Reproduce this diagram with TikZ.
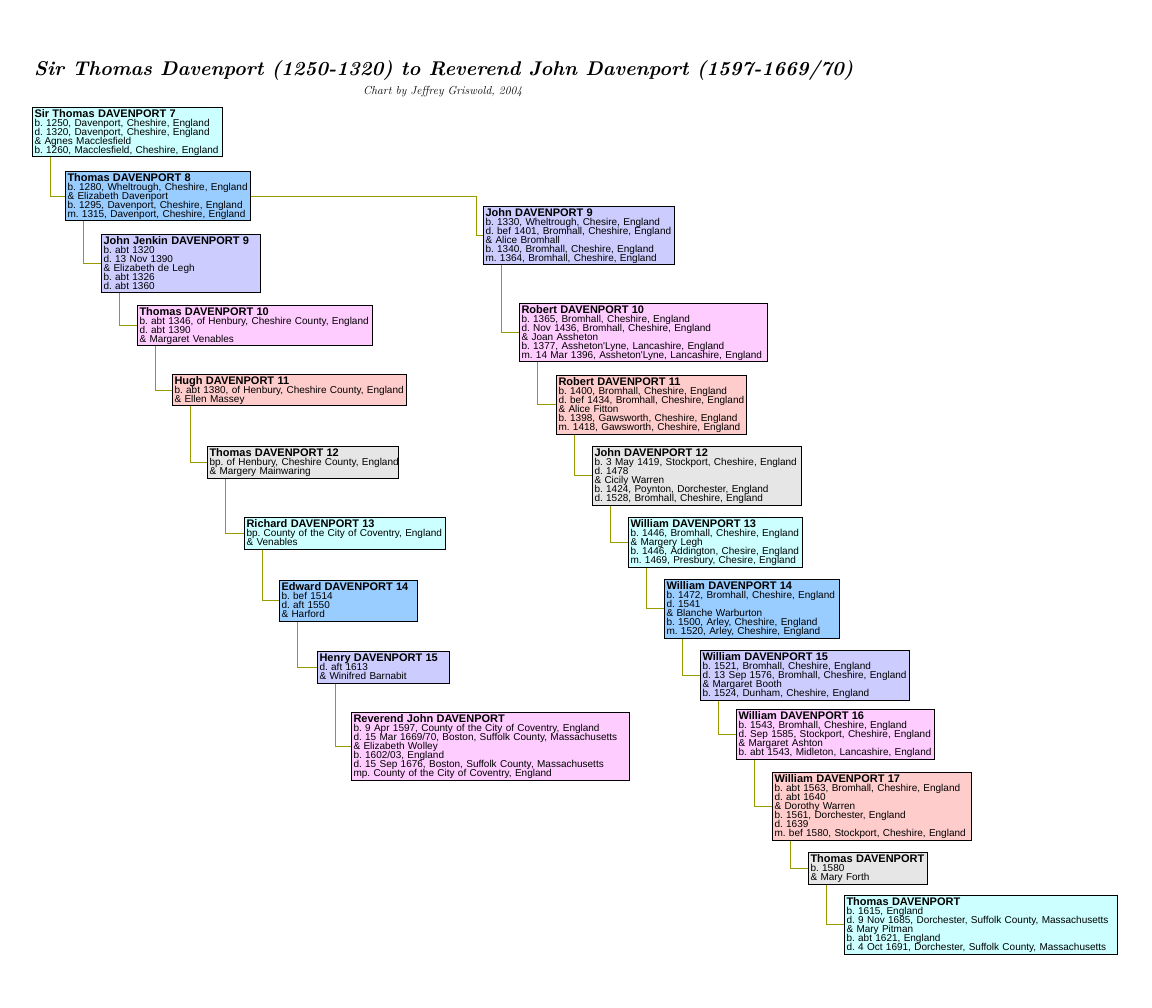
\documentclass[tikz,border=0pt]{standalone}
\usepackage{fontspec}
\usetikzlibrary{backgrounds}
\newfontfamily\boxfont{Liberation Sans}
\frenchspacing
\definecolor{cCyan}{HTML}{CCFFFF}
\definecolor{cBlue}{HTML}{99CCFF}
\definecolor{cLav}{HTML}{CCCCFF}
\definecolor{cPink}{HTML}{FFCCFF}
\definecolor{cSalm}{HTML}{FFCCCC}
\definecolor{cGray}{HTML}{E6E6E6}
\definecolor{cOlive}{HTML}{999900}
\newcommand\boxsetup{\boxfont\fontsize{10}{9}\selectfont\frenchspacing\lineskiplimit=-20pt\relax}
\newcommand\phead[1]{\makebox[0pt][l]{\rule{0pt}{10pt}\fontsize{11}{9}\selectfont\bfseries #1}}
\newcommand\pline[1]{\makebox[0pt][l]{#1}}
\newcommand\plast[1]{\makebox[0pt][l]{\rule[-3.5pt]{0pt}{4pt}#1}}
\tikzset{
  person/.style={draw=black, line width=1pt, anchor=north west, inner xsep=2pt, inner ysep=0pt,
    align=left, font=\boxsetup},
  conn/.style={draw=cOlive, line width=1pt}
}
\begin{document}
\begin{tikzpicture}[x=1pt,y=-1pt]
\useasboundingbox (0,0) rectangle (1152,1008);
% titles
\node[anchor=base west, inner sep=0pt] (title) at (34,76)
  {\resizebox{819pt}{!}{\fontsize{22}{24}\selectfont\bfseries\itshape Sir Thomas Davenport (1250-1320) to Reverend John Davenport (1597-1669/70)}};
\node[anchor=base west, inner sep=0pt] (subtitle) at (363,95)
  {\resizebox{159pt}{!}{\fontsize{11}{12}\selectfont\itshape Chart by Jeffrey Griswold, 2004}};
% left column
\node[person, fill=cCyan, text width=186pt] (s7) at (32,107)
 {\phead{Sir Thomas DAVENPORT 7}\\\pline{b. 1250, Davenport, Cheshire, England}\\\pline{d. 1320, Davenport, Cheshire, England}\\\pline{\& Agnes Macclesfield}\\\plast{b. 1260, Macclesfield, Cheshire, England}};
\node[person, fill=cBlue, text width=181pt] (t8) at (65,171)
 {\phead{Thomas DAVENPORT 8}\\\pline{b. 1280, Wheltrough, Cheshire, England}\\\pline{\& Elizabeth Davenport}\\\pline{b. 1295, Davenport, Cheshire, England}\\\plast{m. 1315, Davenport, Cheshire, England}};
\node[person, fill=cLav, text width=155pt] (jj9) at (101,234)
 {\phead{John Jenkin DAVENPORT 9}\\\pline{b. abt 1320}\\\pline{d. 13 Nov 1390}\\\pline{\& Elizabeth de Legh}\\\pline{b. abt 1326}\\\plast{d. abt 1360}};
\node[person, fill=cPink, text width=231pt] (t10) at (137,305)
 {\phead{Thomas DAVENPORT 10}\\\pline{b. abt 1346, of Henbury, Cheshire County, England}\\\pline{d. abt 1390}\\\plast{\& Margaret Venables}};
\node[person, fill=cSalm, text width=230pt] (h11) at (172,374)
 {\phead{Hugh DAVENPORT 11}\\\pline{b. abt 1380, of Henbury, Cheshire County, England}\\\plast{\& Ellen Massey}};
\node[person, fill=cGray, text width=187pt] (t12) at (207,446)
 {\phead{Thomas DAVENPORT 12}\\\pline{bp. of Henbury, Cheshire County, England}\\\plast{\& Margery Mainwaring}};
\node[person, fill=cCyan, text width=197pt] (r13) at (244,517)
 {\phead{Richard DAVENPORT 13}\\\pline{bp. County of the City of Coventry, England}\\\plast{\& Venables}};
\node[person, fill=cBlue, text width=134pt] (e14) at (279,580)
 {\phead{Edward DAVENPORT 14}\\\pline{b. bef 1514}\\\pline{d. aft 1550}\\\plast{\& Harford}};
\node[person, fill=cLav, text width=128pt] (h15) at (317,651)
 {\phead{Henry DAVENPORT 15}\\\pline{d. aft 1613}\\\plast{\& Winifred Barnabit}};
\node[person, fill=cPink, text width=274pt] (rj) at (351,712)
 {\phead{Reverend John DAVENPORT}\\\pline{b. 9 Apr 1597, County of the City of Coventry, England}\\\pline{d. 15 Mar 1669/70, Boston, Suffolk County, Massachusetts}\\\pline{\& Elizabeth Wolley}\\\pline{b. 1602/03, England}\\\pline{d. 15 Sep 1676, Boston, Suffolk County, Massachusetts}\\\plast{mp. County of the City of Coventry, England}};
% right column
\node[person, fill=cLav, text width=187pt] (j9) at (483,206)
 {\phead{John DAVENPORT 9}\\\pline{b. 1330, Wheltrough, Chesire, England}\\\pline{d. bef 1401, Bromhall, Cheshire, England}\\\pline{\& Alice Bromhall}\\\pline{b. 1340, Bromhall, Cheshire, England}\\\plast{m. 1364, Bromhall, Cheshire, England}};
\node[person, fill=cPink, text width=244pt] (r10) at (519,303)
 {\phead{Robert DAVENPORT 10}\\\pline{b. 1365, Bromhall, Cheshire, England}\\\pline{d. Nov 1436, Bromhall, Cheshire, England}\\\pline{\& Joan Assheton}\\\pline{b. 1377, Assheton'Lyne, Lancashire, England}\\\plast{m. 14 Mar 1396, Assheton'Lyne, Lancashire, England}};
\node[person, fill=cSalm, text width=186pt] (r11) at (556,375)
 {\phead{Robert DAVENPORT 11}\\\pline{b. 1400, Bromhall, Cheshire, England}\\\pline{d. bef 1434, Bromhall, Cheshire, England}\\\pline{\& Alice Fitton}\\\pline{b. 1398, Gawsworth, Cheshire, England}\\\plast{m. 1418, Gawsworth, Cheshire, England}};
\node[person, fill=cGray, text width=205pt] (j12) at (592,446)
 {\phead{John DAVENPORT 12}\\\pline{b. 3 May 1419, Stockport, Cheshire, England}\\\pline{d. 1478}\\\pline{\& Cicily Warren}\\\pline{b. 1424, Poynton, Dorchester, England}\\\plast{d. 1528, Bromhall, Cheshire, England}};
\node[person, fill=cCyan, text width=170pt] (w13) at (628,517)
 {\phead{William DAVENPORT 13}\\\pline{b. 1446, Bromhall, Cheshire, England}\\\pline{\& Margery Legh}\\\pline{b. 1446, Addington, Chesire, England}\\\plast{m. 1469, Presbury, Chesire, England}};
\node[person, fill=cBlue, text width=171pt] (w14) at (664,579)
 {\phead{William DAVENPORT 14}\\\pline{b. 1472, Bromhall, Cheshire, England}\\\pline{d. 1541}\\\pline{\& Blanche Warburton}\\\pline{b. 1500, Arley, Cheshire, England}\\\plast{m. 1520, Arley, Cheshire, England}};
\node[person, fill=cLav, text width=205pt] (w15) at (700,650)
 {\phead{William DAVENPORT 15}\\\pline{b. 1521, Bromhall, Cheshire, England}\\\pline{d. 13 Sep 1576, Bromhall, Cheshire, England}\\\pline{\& Margaret Booth}\\\plast{b. 1524, Dunham, Cheshire, England}};
\node[person, fill=cPink, text width=194pt] (w16) at (736,709)
 {\phead{William DAVENPORT 16}\\\pline{b. 1543, Bromhall, Cheshire, England}\\\pline{d. Sep 1585, Stockport, Cheshire, England}\\\pline{\& Margaret Ashton}\\\plast{b. abt 1543, Midleton, Lancashire, England}};
\node[person, fill=cSalm, text width=195pt] (w17) at (772,772)
 {\phead{William DAVENPORT 17}\\\pline{b. abt 1563, Bromhall, Cheshire, England}\\\pline{d. abt 1640}\\\pline{\& Dorothy Warren}\\\pline{b. 1561, Dorchester, England}\\\pline{d. 1639}\\\plast{m. bef 1580, Stockport, Cheshire, England}};
\node[person, fill=cGray, text width=115pt] (th) at (808,852)
 {\phead{Thomas DAVENPORT}\\\pline{b. 1580}\\\plast{\& Mary Forth}};
\node[person, fill=cCyan, text width=269pt] (th2) at (844,895)
 {\phead{Thomas DAVENPORT}\\\pline{b. 1615, England}\\\pline{d. 9 Nov 1685, Dorchester, Suffolk County, Massachusetts}\\\pline{\& Mary Pitman}\\\pline{b. abt 1621, England}\\\plast{d. 4 Oct 1691, Dorchester, Suffolk County, Massachusetts}};
% connectors
\begin{scope}[on background layer]
\draw[conn] ([xshift=18pt]s7.south west) |- (t8.west);
\draw[conn] ([xshift=18pt]t8.south west) |- (jj9.west);
\draw[conn] ([xshift=18pt]jj9.south west) |- (t10.west);
\draw[conn] ([xshift=18pt]t10.south west) |- (h11.west);
\draw[conn] ([xshift=18pt]h11.south west) |- (t12.west);
\draw[conn] ([xshift=18pt]t12.south west) |- (r13.west);
\draw[conn] ([xshift=18pt]r13.south west) |- (e14.west);
\draw[conn] ([xshift=18pt]e14.south west) |- (h15.west);
\draw[conn] ([xshift=18pt]h15.south west) |- (rj.west);
\draw[conn] (t8.east) -| ([xshift=-7pt]j9.west) -- (j9.west);
\draw[conn] ([xshift=18pt]j9.south west) |- (r10.west);
\draw[conn] ([xshift=18pt]r10.south west) |- (r11.west);
\draw[conn] ([xshift=18pt]r11.south west) |- (j12.west);
\draw[conn] ([xshift=18pt]j12.south west) |- (w13.west);
\draw[conn] ([xshift=18pt]w13.south west) |- (w14.west);
\draw[conn] ([xshift=18pt]w14.south west) |- (w15.west);
\draw[conn] ([xshift=18pt]w15.south west) |- (w16.west);
\draw[conn] ([xshift=18pt]w16.south west) |- (w17.west);
\draw[conn] ([xshift=18pt]w17.south west) |- (th.west);
\draw[conn] ([xshift=18pt]th.south west) |- (th2.west);
\end{scope}
\end{tikzpicture}
\end{document}
